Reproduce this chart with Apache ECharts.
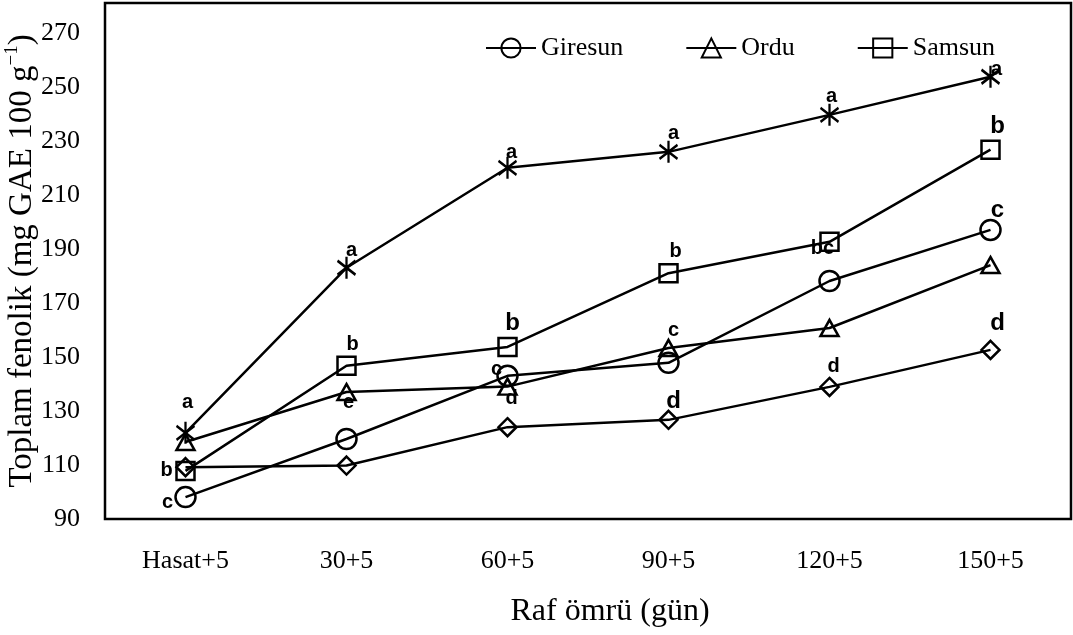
<!DOCTYPE html>
<html>
<head>
<meta charset="utf-8">
<script src="https://cdn.jsdelivr.net/npm/echarts@6/dist/echarts.min.js"></script>
<style>
  html, body { margin: 0; padding: 0; background: #fff; }
  #chart { width: 1073px; height: 635px; }
</style>
</head>
<body>
<div id="chart"></div>
<script>
// categories (x axis)
const categories = ['Hasat+5', '30+5', '60+5', '90+5', '120+5', '150+5']

// series values
const giresun = [98.1, 119.6, 143.0, 147.8, 178.1, 197.0]
const ordu = [118.5, 137.0, 139.0, 153.3, 160.7, 184.0]
const samsun = [107.8, 146.7, 153.7, 181.0, 192.6, 226.7]
const diamondValues = [109.2, 109.8, 124.0, 126.7, 138.9, 152.6]
const starValues = [121.9, 183.0, 220.0, 225.9, 239.6, 253.7]

// significance letters per point
const giresunLetters = ['c', '', 'c', '', '', 'c']
const orduLetters = ['', 'e', 'd', 'c', '', '']
const samsunLetters = ['b', 'b', 'b', 'b', 'bc', 'b']
const diamondLetters = ['', '', '', 'd', 'd', 'd']
const starLetters = ['a', 'a', 'a', 'a', 'a', 'a']

// y ticks
const yMin = 90
const yMax = 281
const yStep = 20

// label placement (offset from point, big = larger letter)
const giresunPos = [[-18, 5], null, [-11, -6], null, null, [7, -20, 1]]
const orduPos = [null, [2, 10], [4, 12], [5, -18], null, null]
const samsunPos = [[-19, 0], [6, -21], [5, -24, 1], [7, -22], [-7, 7], [7, -23, 1]]
const diamondPos = [null, null, null, [5, -18, 1], [4, -20], [7, -27, 1]]
const starPos = [[2, -30], [5, -17], [4, -15], [5, -18], [2, -18], [6, -7]]

const chart = echarts.init(document.getElementById('chart'))

function buildData(values, letters, pos) {
  return values.map((v, i) => {
    const p = pos[i]
    if (!letters[i] || !p) return v
    return {
      value: v,
      label: {
        show: true,
        position: 'inside',
        offset: [p[0], p[1]],
        formatter: letters[i],
        fontSize: p[2] ? 24 : 20
      }
    }
  })
}

const starPath = 'path://M0,0L0,22M-9,4L9,18M-9,18L9,4'

function makeSeries(name, values, letters, pos, symbol, size) {
  return {
    name: name,
    type: 'line',
    data: buildData(values, letters, pos),
    symbol: symbol,
    symbolSize: size,
    showAllSymbol: true,
    lineStyle: { color: '#000', width: 2.5 },
    itemStyle: { color: 'rgba(0,0,0,0)', borderColor: '#000', borderWidth: 2.5 },
    label: {
      show: false,
      color: '#000',
      fontFamily: 'Liberation Sans',
      fontWeight: 'bold'
    },
    emphasis: { disabled: true },
    animation: false
  }
}

const option = {
  animation: false,
  legend: {
    data: ['Giresun', 'Ordu', 'Samsun'],
    left: 480,
    top: 30,
    itemWidth: 50,
    itemHeight: 24,
    itemGap: 62,
    textStyle: {
      fontFamily: 'Liberation Serif',
      fontSize: 26,
      color: '#000'
    }
  },
  grid: {
    left: 105,
    right: 2,
    top: 3,
    bottom: 116,
    containLabel: false,
    outerBoundsMode: 'none',
    show: true,
    borderColor: '#000',
    borderWidth: 2.5
  },
  xAxis: {
    type: 'category',
    data: categories,
    boundaryGap: true,
    axisLine: { show: false },
    axisTick: { show: false },
    axisLabel: {
      color: '#000',
      fontFamily: 'Liberation Serif',
      fontSize: 26,
      margin: 29
    },
    name: 'Raf ömrü (gün)',
    nameLocation: 'middle',
    nameGap: 77,
    nameMoveOverlap: false,
    nameTextStyle: {
      color: '#000',
      fontFamily: 'Liberation Serif',
      fontSize: 32,
      padding: [0, 0, 0, 44]
    }
  },
  yAxis: {
    type: 'value',
    min: yMin,
    max: yMax,
    interval: yStep,
    axisLine: { show: false },
    axisTick: { show: false },
    splitLine: { show: false },
    axisLabel: {
      color: '#000',
      fontFamily: 'Liberation Serif',
      fontSize: 26,
      margin: 25,
      showMaxLabel: false
    },
    name: 'Toplam fenolik (mg GAE 100 g{s|−1})',
    nameLocation: 'middle',
    nameGap: 64,
    nameMoveOverlap: false,
    nameTextStyle: {
      color: '#000',
      fontFamily: 'Liberation Serif',
      fontSize: 33,
      lineHeight: 38,
      rich: {
        s: {
          fontFamily: 'Liberation Serif',
          fontSize: 19,
          lineHeight: 22,
          verticalAlign: 'top',
          color: '#000'
        }
      }
    }
  },
  series: [
    makeSeries('Giresun', giresun, giresunLetters, giresunPos, 'circle', 20),
    makeSeries('Ordu', ordu, orduLetters, orduPos, 'triangle', [18, 16]),
    makeSeries('Samsun', samsun, samsunLetters, samsunPos, 'rect', 18),
    makeSeries('Diamond', diamondValues, diamondLetters, diamondPos, 'diamond', 18),
    makeSeries('Star', starValues, starLetters, starPos, starPath, [18, 22])
  ]
}

chart.setOption(option)
</script>
</body>
</html>
